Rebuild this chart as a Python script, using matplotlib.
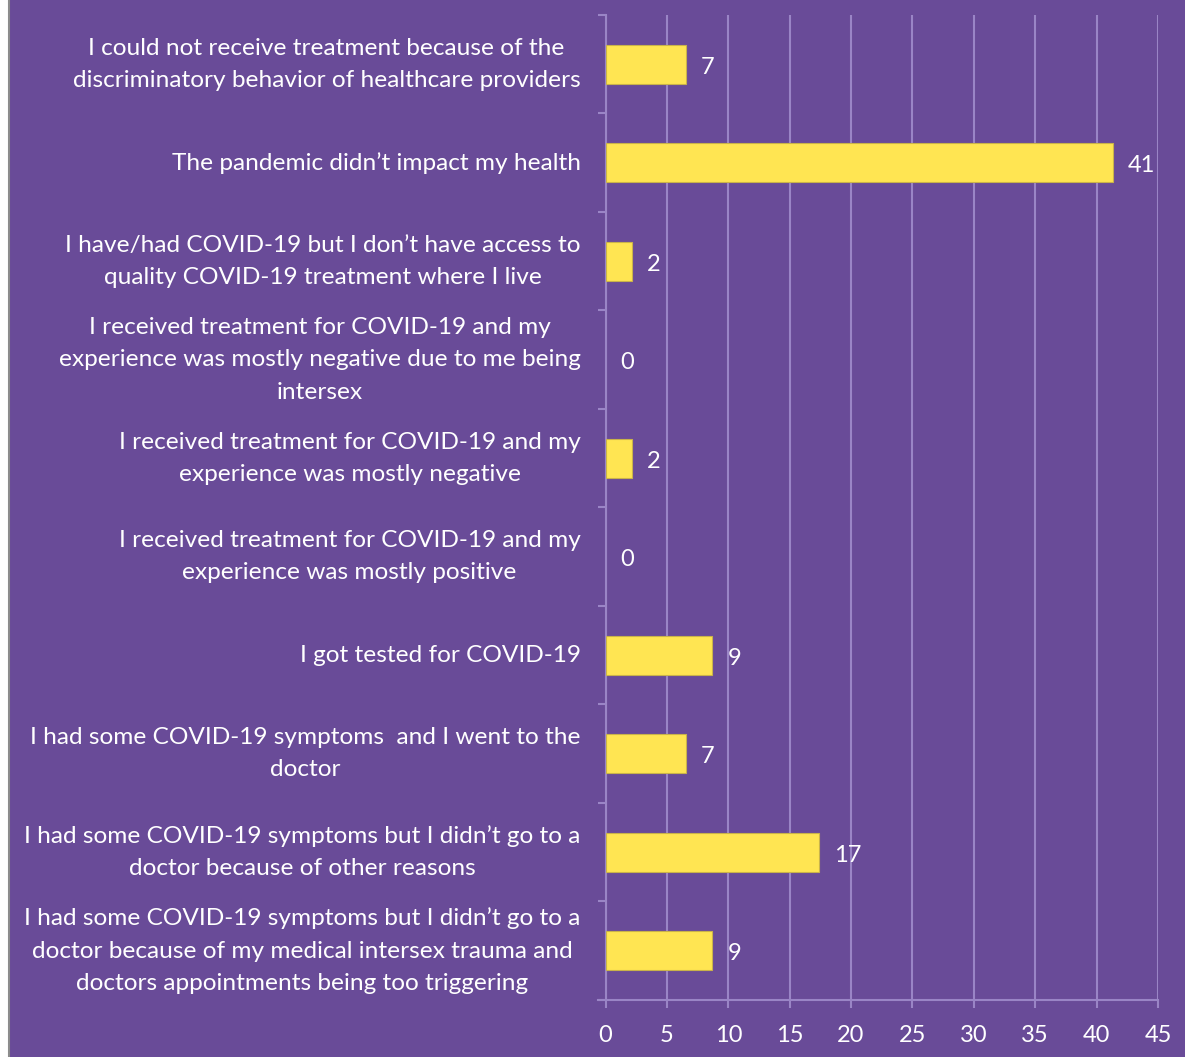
import matplotlib.pyplot as plt
from matplotlib.patches import Rectangle
from matplotlib.lines import Line2D

# Antworten (von oben nach unten), Werte in Prozent (n=46)
categories = [
    "I could not receive treatment because of the\ndiscriminatory behavior of healthcare providers",
    "The pandemic didn\u2019t impact my health",
    "I have/had COVID-19 but I don\u2019t have access to\nquality COVID-19 treatment where I live",
    "I received treatment for COVID-19 and my\nexperience was mostly negative due to me being\nintersex",
    "I received treatment for COVID-19 and my\nexperience was mostly negative",
    "I received treatment for COVID-19 and my\nexperience was mostly positive",
    "I got tested for COVID-19",
    "I had some COVID-19 symptoms  and I went to the\ndoctor",
    "I had some COVID-19 symptoms but I didn\u2019t go to a\ndoctor because of other reasons",
    "I had some COVID-19 symptoms but I didn\u2019t go to a\ndoctor because of my medical intersex trauma and\ndoctors appointments being too triggering",
]
values = [6.52, 41.30, 2.17, 0, 2.17, 0, 8.70, 6.52, 17.39, 8.70]
xticks = [0, 5, 10, 15, 20, 25, 30, 35, 40, 45]

purple = "#694B98"
yellow = "#FFE552"
grid = "#9A85C6"

plt.rcParams['font.family'] = ['Lato', 'DejaVu Sans']

fig = plt.figure(figsize=(11.85, 10.57), dpi=100, facecolor="white")
# Hintergrund mit grauem Rand links
fig.patches.append(Rectangle((9 / 1185, 0), 1, 1, transform=fig.transFigure,
                             facecolor=purple, edgecolor="none", zorder=-10))
fig.lines.append(Line2D([8.5 / 1185, 8.5 / 1185], [0, 1], transform=fig.transFigure,
                        color="#8C8C8C", linewidth=1.5, zorder=-9))

ax = fig.add_axes([605.5 / 1185, 1 - 1000 / 1057, (1158 - 605.5) / 1185, (1000 - 15) / 1057])
ax.set_facecolor("none")
ax.set_zorder(1)

pos = list(range(len(categories)))
ax.barh(pos, values, height=0.4, color=yellow, edgecolor="#C9B34A",
        linewidth=[0.8 if v > 0 else 0 for v in values], zorder=3)

for p, v in zip(pos, values):
    ax.annotate(f"{v:.0f}", (v, p), xytext=(15, -3), textcoords="offset pixels",
                ha="left", va="center", color="white", fontsize=17)

ax.set_xlim(0, 45)
ax.set_ylim(len(categories) - 0.5, -0.5)
ax.set_xticks(xticks)
ax.set_xticklabels([str(t) for t in xticks], color="white", fontsize=17)
ax.set_yticks(pos)
ax.set_yticklabels(categories, color="white", fontsize=17.6, linespacing=1.67,
                   ha="right", va="center", multialignment="center")
ax.tick_params(axis="y", length=0, pad=18)
ax.set_yticks([i - 0.5 for i in range(len(categories) + 1)], minor=True)
ax.tick_params(axis="y", which="minor", length=6, width=1.5, color=grid)
ax.tick_params(axis="x", length=6, width=1.5, color=grid, pad=12)

ax.grid(axis="x", color=grid, linewidth=1.5, zorder=0)
for s in ["top", "right"]:
    ax.spines[s].set_visible(False)
ax.spines["left"].set_color(grid)
ax.spines["left"].set_linewidth(1.5)
ax.spines["bottom"].set_color(grid)
ax.spines["bottom"].set_linewidth(1.5)
ax.spines["bottom"].set_bounds(-0.65, 45)

fig.savefig("out.png", dpi=100, facecolor=fig.get_facecolor())
